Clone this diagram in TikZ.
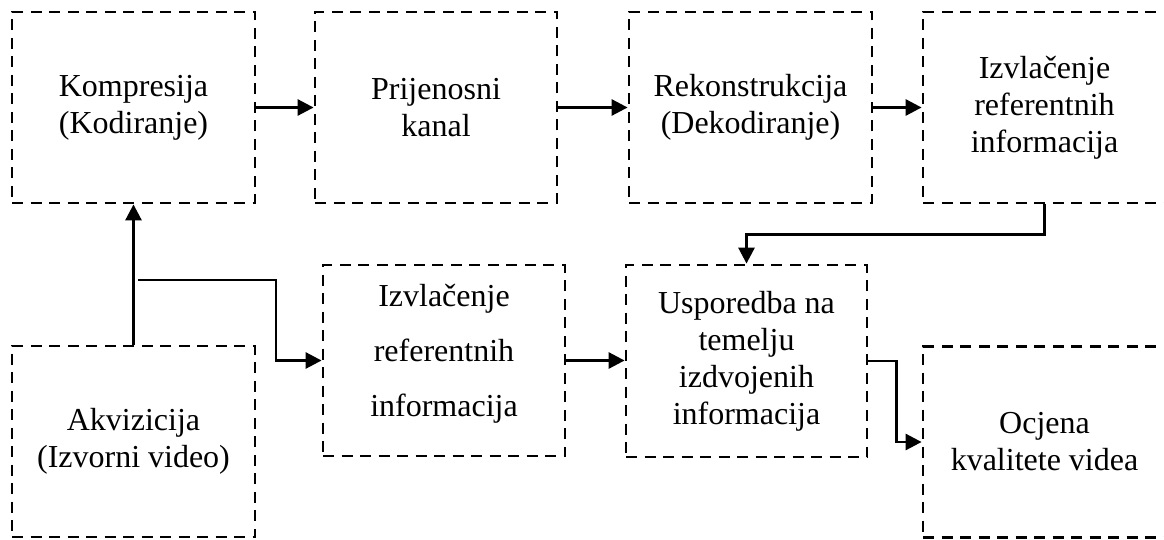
\documentclass[tikz,border=0pt]{standalone}
\usepackage{fontspec}
\setmainfont{Liberation Serif}
\usetikzlibrary{arrows.meta,calc}
\begin{document}
\begin{tikzpicture}[x=1pt,y=-1pt,
  blk/.style={draw=black, line width=2.8pt, dash pattern=on 11pt off 7.5pt,
    minimum width=243pt, minimum height=191pt, inner sep=0pt, align=center,
    font=\fontsize{32}{37}\selectfont},
  arr/.style={line width=2.8pt, -{Triangle[length=16pt,width=16pt]}}]
\useasboundingbox (0,0) rectangle (1164,540);
\node[blk] (A) at (133.5,107.5) {Kompresija\\(Kodiranje)};
\node[blk, minimum width=242pt] (B) at (436,107.5) {Prijenosni\\kanal};
\node[blk] (C) at (750.5,107.5) {Rekonstrukcija\\(Dekodiranje)};
\node[blk] (D) at (1044.5,107.5) {Izvlačenje\\referentnih\\informacija};
\node[blk] (E) at (133.5,441.5) {Akvizicija\\(Izvorni video)};
\node[blk, minimum width=242pt] (F) at (444,360.5) {};
\node[font=\fontsize{32}{55}\selectfont, align=center] (Ft) at (444,354) {Izvlačenje\\referentnih\\informacija};
\node[blk, minimum width=241pt, minimum height=192pt] (G) at (746.5,361) {Usporedba na\\temelju\\izdvojenih\\informacija};
\node[blk] (H) at (1044.5,442) {Ocjena\\kvalitete videa};
\draw[arr] (A.east) -- (B.west);
\draw[arr] (B.east) -- (C.west);
\draw[arr] (C.east) -- (D.west);
\draw[arr] (E.north) -- (A.south);
\coordinate (br) at (138,280);
\coordinate (bk) at (276,280);
\draw[arr] (br) -- (bk) |- (F.west);
\draw[arr] (F.east) -- (F.east -| G.west);
\draw[arr] (D.south) -- ++(0,30) -| (G.north);
\draw[arr] (G.east) -- ++(28,0) |- (H.west);
\end{tikzpicture}
\end{document}
